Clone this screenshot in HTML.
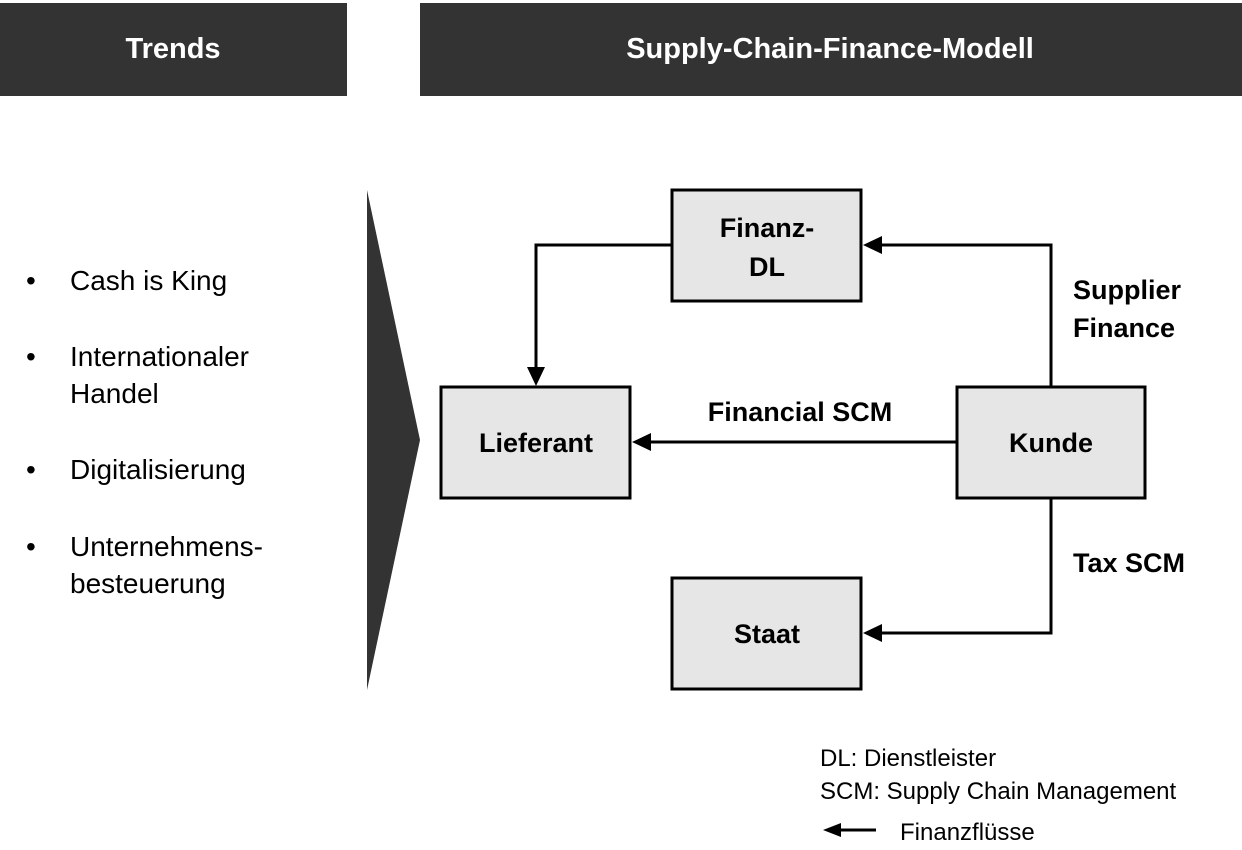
<!DOCTYPE html>
<html><head><meta charset="utf-8"><style>
body{margin:0;background:#fff;}
svg{display:block;font-family:"Liberation Sans",Arial,sans-serif;}
</style></head><body>
<svg width="1242" height="850" viewBox="0 0 1242 850" xmlns="http://www.w3.org/2000/svg">
<defs><marker id="a" markerWidth="10" markerHeight="10" refX="9" refY="5" orient="auto" markerUnits="userSpaceOnUse"><path d="M0,0 L0,0"/></marker></defs>
<rect x="0" y="3" width="347" height="93" fill="#333"/>
<rect x="420" y="3" width="822" height="93" fill="#333"/>
<text x="173" y="58" fill="#fff" font-size="29" font-weight="bold" text-anchor="middle">Trends</text>
<text x="830" y="58" fill="#fff" font-size="29" font-weight="bold" text-anchor="middle">Supply-Chain-Finance-Modell</text>
<polygon points="367,190 420,440 367,690" fill="#333"/>
<g font-size="28" fill="#000">
<text x="26" y="290">•</text><text x="70" y="290">Cash is King</text>
<text x="26" y="366">•</text><text x="70" y="366">Internationaler</text><text x="70" y="403">Handel</text>
<text x="26" y="479">•</text><text x="70" y="479">Digitalisierung</text>
<text x="26" y="556">•</text><text x="70" y="556">Unternehmens-</text><text x="70" y="593">besteuerung</text>
</g>
<g fill="#e6e6e6" stroke="#000" stroke-width="3">
<rect x="672" y="190" width="189" height="111"/>
<rect x="441" y="387" width="189" height="111"/>
<rect x="957" y="387" width="188" height="111"/>
<rect x="672" y="578" width="189" height="111"/>
</g>
<g font-size="27" font-weight="bold" text-anchor="middle" fill="#000">
<text x="767" y="237">Finanz-</text><text x="767" y="276">DL</text>
<text x="536" y="452">Lieferant</text>
<text x="1051" y="452">Kunde</text>
<text x="767" y="643">Staat</text>
<text x="800" y="421">Financial SCM</text>
<text x="1073" y="299" text-anchor="start">Supplier</text>
<text x="1073" y="337" text-anchor="start">Finance</text>
<text x="1073" y="572" text-anchor="start">Tax SCM</text>
</g>
<g stroke="#000" stroke-width="3" fill="none">
<polyline points="1051,387 1051,245 880,245"/>
<polyline points="672,245 536,245 536,370"/>
<line x1="957" y1="442" x2="648" y2="442"/>
<polyline points="1051,498 1051,633 880,633"/>
<line x1="876" y1="830" x2="838" y2="830"/>
</g>
<g fill="#000">
<polygon points="863,245 882,236 882,254"/>
<polygon points="536,386 527,367 545,367"/>
<polygon points="632,442 651,433 651,451"/>
<polygon points="863,633 882,624 882,642"/>
<polygon points="823,830 841,823 841,837"/>
</g>
<g font-size="24" fill="#000">
<text x="820" y="766">DL: Dienstleister</text>
<text x="820" y="799">SCM: Supply Chain Management</text>
<text x="900" y="840">Finanzflüsse</text>
</g>
</svg>
</body></html>
